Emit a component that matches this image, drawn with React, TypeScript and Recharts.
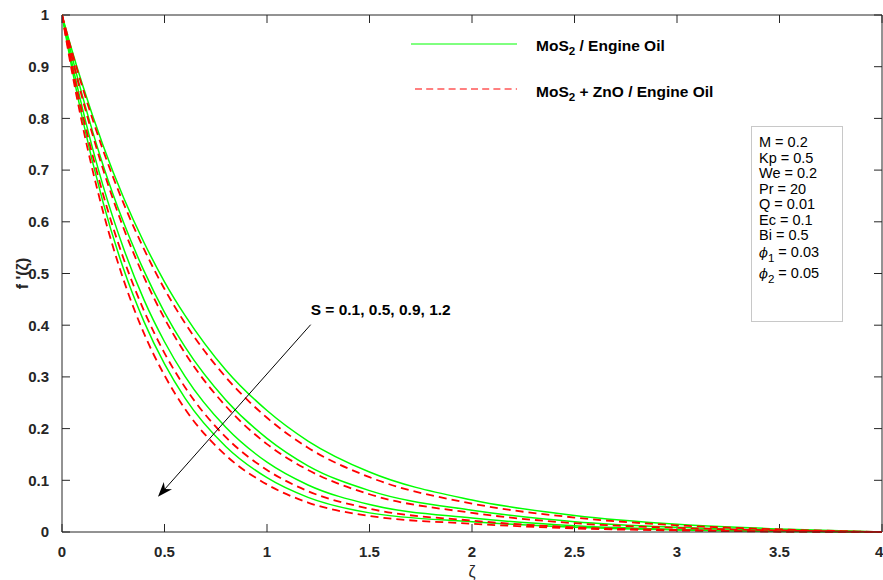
import React from 'react';
import { LineChart, Line, XAxis, YAxis, ReferenceLine } from 'recharts';

// similarity variable zeta
const zeta = [0, 0.05, 0.1, 0.2, 0.3, 0.4, 0.5, 0.6, 0.8, 1.0, 1.2, 1.5, 2.0, 2.5, 3.0, 3.5, 4.0];

// f'(zeta) for MoS2 / engine oil, S = 0.1, 0.5, 0.9, 1.2
const monoS1 = [1, 0.930, 0.865, 0.748, 0.647, 0.560, 0.484, 0.419, 0.313, 0.235, 0.176, 0.116, 0.062, 0.032, 0.015, 0.006, 0];
const monoS2 = [1, 0.918, 0.843, 0.710, 0.599, 0.505, 0.425, 0.358, 0.255, 0.181, 0.128, 0.080, 0.042, 0.020, 0.009, 0.003, 0];
const monoS3 = [1, 0.905, 0.819, 0.670, 0.549, 0.449, 0.368, 0.301, 0.202, 0.135, 0.091, 0.053, 0.027, 0.012, 0.005, 0.002, 0];
const monoS4 = [1, 0.894, 0.799, 0.638, 0.509, 0.407, 0.325, 0.259, 0.165, 0.105, 0.067, 0.037, 0.020, 0.009, 0.004, 0.001, 0];

// f'(zeta) for MoS2 + ZnO / engine oil
const hybS1 = [1, 0.927, 0.860, 0.739, 0.636, 0.547, 0.470, 0.404, 0.299, 0.221, 0.163, 0.106, 0.055, 0.028, 0.013, 0.005, 0];
const hybS2 = [1, 0.915, 0.838, 0.702, 0.588, 0.493, 0.413, 0.346, 0.243, 0.170, 0.120, 0.073, 0.037, 0.017, 0.008, 0.003, 0];
const hybS3 = [1, 0.899, 0.809, 0.654, 0.529, 0.428, 0.346, 0.280, 0.183, 0.120, 0.079, 0.045, 0.022, 0.009, 0.004, 0.001, 0];
const hybS4 = [1, 0.887, 0.787, 0.620, 0.488, 0.384, 0.303, 0.238, 0.148, 0.092, 0.057, 0.031, 0.016, 0.007, 0.003, 0.001, 0];

const xTicks = [0, 0.5, 1, 1.5, 2, 2.5, 3, 3.5, 4];
const yTicks = [0, 0.1, 0.2, 0.3, 0.4, 0.5, 0.6, 0.7, 0.8, 0.9, 1];

const params = ['M = 0.2', 'Kp = 0.5', 'We = 0.2', 'Pr = 20', 'Q = 0.01', 'Ec = 0.1', 'Bi = 0.5'];
const phiParams = [['1', '0.03'], ['2', '0.05']];

const annotation = 'S = 0.1, 0.5, 0.9, 1.2';
const arrowFrom = { x: 1.213, y: 0.401 };
const arrowTo = { x: 0.468, y: 0.068 };

const data = zeta.map((z, i) => ({
  z,
  g1: monoS1[i], g2: monoS2[i], g3: monoS3[i], g4: monoS4[i],
  r1: hybS1[i], r2: hybS2[i], r3: hybS3[i], r4: hybS4[i],
}));

const FONT = '"Liberation Sans", Arial, Helvetica, sans-serif';
const AXIS = '#262626';
const GREEN = '#00ff00';
const RED = '#ff0000';
// inward tick length in data units (about 8px)
const TX = 0.039;
const TY = 0.0155;

const Arrow = (props: any) => {
  const { x1, y1, x2, y2 } = props;
  const ang = Math.atan2(y2 - y1, x2 - x1);
  const L = 15, W = 5.5;
  const bx = x2 - L * Math.cos(ang), by = y2 - L * Math.sin(ang);
  const nx = x2 - L * 0.7 * Math.cos(ang), ny = y2 - L * 0.7 * Math.sin(ang);
  const px = -Math.sin(ang), py = Math.cos(ang);
  const pts = `${x2},${y2} ${bx + px * W},${by + py * W} ${nx},${ny} ${bx - px * W},${by - py * W}`;
  return (
    <g>
      <line x1={x1} y1={y1} x2={nx} y2={ny} stroke="#000" strokeWidth={1} />
      <polygon points={pts} fill="#000" />
      <text x={x1} y={y1 - 10} fontFamily={FONT} fontWeight="bold" fontSize={15.5} fill="#000">
        {annotation}
      </text>
    </g>
  );
};

const Mo = ({ rest }: { rest: string }) => (
  <span>MoS<sub style={{ fontSize: '0.75em', verticalAlign: '-0.35em' }}>2</sub>{rest}</span>
);

export default function App() {
  const tickStyle = { fill: AXIS, fontSize: 15, fontWeight: 'bold', fontFamily: FONT };
  return (
    <div style={{ position: 'absolute', left: 0, top: 0, width: 883, height: 580, background: '#fff', fontFamily: FONT }}>
      <LineChart width={883} height={580} data={data} margin={{ top: 15, right: 1, bottom: 0, left: 0 }}>
        <XAxis
          dataKey="z" type="number" domain={[0, 4]} ticks={xTicks} allowDataOverflow
          height={48} stroke={AXIS} tickLine={false} tickMargin={8} tick={tickStyle}
          tickFormatter={(v: number) => String(v)}
          label={{ value: 'ζ', position: 'insideBottom', offset: 3, style: { fill: AXIS, fontSize: 16, fontFamily: FONT } }}
        />
        <YAxis
          type="number" domain={[0, 1]} ticks={yTicks} width={62} stroke={AXIS}
          tickLine={false} tickMargin={7} tick={tickStyle}
          label={{ value: "f '(ζ)", angle: -90, position: 'insideLeft', offset: 22, style: { textAnchor: 'middle', fill: AXIS, fontSize: 16, fontWeight: 'bold', fontFamily: FONT } }}
        />
        {/* box: top and right edges */}
        <ReferenceLine y={1} stroke={AXIS} ifOverflow="visible" />
        <ReferenceLine x={4} stroke={AXIS} ifOverflow="visible" />
        {/* inward ticks on all four sides */}
        {xTicks.map((t) => (
          <ReferenceLine key={`xb${t}`} segment={[{ x: t, y: 0 }, { x: t, y: TY }]} stroke={AXIS} ifOverflow="visible" />
        ))}
        {xTicks.map((t) => (
          <ReferenceLine key={`xt${t}`} segment={[{ x: t, y: 1 }, { x: t, y: 1 - TY }]} stroke={AXIS} ifOverflow="visible" />
        ))}
        {yTicks.map((t) => (
          <ReferenceLine key={`yl${t}`} segment={[{ x: 0, y: t }, { x: TX, y: t }]} stroke={AXIS} ifOverflow="visible" />
        ))}
        {yTicks.map((t) => (
          <ReferenceLine key={`yr${t}`} segment={[{ x: 4, y: t }, { x: 4 - TX, y: t }]} stroke={AXIS} ifOverflow="visible" />
        ))}
        <Line type="monotone" dataKey="g1" stroke={GREEN} strokeWidth={1.5} dot={false} isAnimationActive={false} />
        <Line type="monotone" dataKey="g2" stroke={GREEN} strokeWidth={1.5} dot={false} isAnimationActive={false} />
        <Line type="monotone" dataKey="g3" stroke={GREEN} strokeWidth={1.5} dot={false} isAnimationActive={false} />
        <Line type="monotone" dataKey="g4" stroke={GREEN} strokeWidth={1.5} dot={false} isAnimationActive={false} />
        <Line type="monotone" dataKey="r1" stroke={RED} strokeWidth={1.8} strokeDasharray="8 5" dot={false} isAnimationActive={false} />
        <Line type="monotone" dataKey="r2" stroke={RED} strokeWidth={1.8} strokeDasharray="8 5" dot={false} isAnimationActive={false} />
        <Line type="monotone" dataKey="r3" stroke={RED} strokeWidth={1.8} strokeDasharray="8 5" dot={false} isAnimationActive={false} />
        <Line type="monotone" dataKey="r4" stroke={RED} strokeWidth={1.8} strokeDasharray="8 5" dot={false} isAnimationActive={false} />
        <ReferenceLine segment={[arrowFrom, arrowTo]} ifOverflow="visible" shape={Arrow} />
      </LineChart>

      {/* legend */}
      <svg style={{ position: 'absolute', left: 405, top: 30 }} width={120} height={70}>
        <line x1={6} y1={14} x2={112} y2={14} stroke={GREEN} strokeWidth={1} />
        <line x1={10} y1={59} x2={112} y2={59} stroke={RED} strokeWidth={1} strokeDasharray="7 4.2" />
      </svg>
      <div style={{ position: 'absolute', left: 536, top: 37, fontSize: 15.5, fontWeight: 'bold', color: '#000', lineHeight: '18px', whiteSpace: 'nowrap' }}>
        <Mo rest=" / Engine Oil" />
      </div>
      <div style={{ position: 'absolute', left: 536, top: 83, fontSize: 15.5, fontWeight: 'bold', color: '#000', lineHeight: '18px', whiteSpace: 'nowrap' }}>
        <Mo rest=" + ZnO / Engine Oil" />
      </div>

      {/* parameter box */}
      <div style={{ position: 'absolute', left: 751, top: 126, width: 92, height: 196, border: '1px solid #c8c8c8', background: '#fff', boxSizing: 'border-box', paddingLeft: 7, paddingTop: 8, fontSize: 14.5, lineHeight: '15.5px', color: '#000' }}>
        {params.map((p) => (
          <div key={p} style={{ whiteSpace: 'nowrap' }}>{p}</div>
        ))}
        {phiParams.map(([s, v]) => (
          <div key={s} style={{ whiteSpace: 'nowrap', marginTop: 1 }}>
            <i style={{ fontFamily: '"DejaVu Serif", serif', fontSize: 13 }}>ϕ</i>
            <sub style={{ fontSize: '0.8em', verticalAlign: '-0.4em' }}>{s}</sub> = {v}
          </div>
        ))}
      </div>
    </div>
  );
}
